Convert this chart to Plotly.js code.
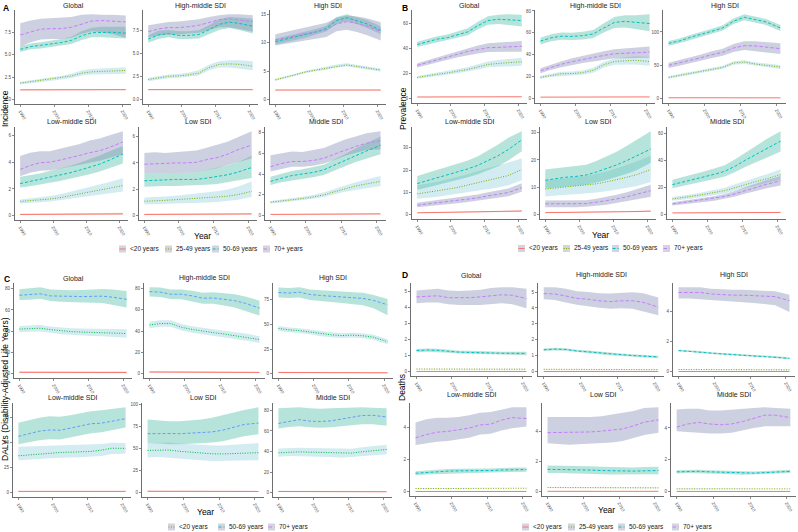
<!DOCTYPE html>
<html>
<head>
<meta charset="utf-8">
<script src="https://cdn.plot.ly/plotly-3.0.1.min.js"></script>
<style>
  html, body { margin: 0; padding: 0; background: #fff; }
  #chart { width: 798px; height: 532px; }
</style>
</head>
<body>
<div id="chart"></div>
<script>
// ---------------------------------------------------------------------------
// Shared categories
// ---------------------------------------------------------------------------
const YEARS = [1990, 1993, 1996, 1999, 2002, 2005, 2008, 2011, 2014, 2017, 2021];
const YEAR_TICKS = [1990, 2000, 2010, 2020];
const REGIONS = ['Global', 'High-middle SDI', 'High SDI', 'Low-middle SDI', 'Low SDI', 'Middle SDI'];
const AGE4 = ['<20 years', '25-49 years', '50-69 years', '70+ years'];
const AGE3 = ['<20 years', '50-69 years', '70+ years'];

// ---------------------------------------------------------------------------
// Incidence (series order: <20, 25-49, 50-69, 70+)
// ---------------------------------------------------------------------------
const incGlobalMean = [
  [1.10,1.10,1.10,1.11,1.11,1.11,1.12,1.12,1.12,1.12,1.12],
  [1.85,2.00,2.15,2.30,2.45,2.65,2.95,3.10,3.15,3.20,3.25],
  [5.60,5.90,6.05,6.20,6.35,6.60,7.10,7.45,7.50,7.50,7.40],
  [7.20,7.50,7.85,7.90,7.90,8.05,8.40,8.75,8.80,8.75,8.65]];
const incGlobalLow = [
  [1.03,1.03,1.04,1.04,1.04,1.05,1.05,1.05,1.05,1.05,1.05],
  [1.70,1.85,2.00,2.12,2.25,2.42,2.68,2.80,2.85,2.88,2.90],
  [5.30,5.60,5.70,5.85,6.00,6.20,6.65,6.95,6.95,6.90,6.80],
  [5.90,6.40,6.70,6.75,6.75,6.90,7.30,7.60,7.50,7.30,6.90]];
const incGlobalHigh = [
  [1.17,1.17,1.17,1.18,1.18,1.18,1.19,1.19,1.19,1.19,1.19],
  [2.00,2.15,2.30,2.48,2.65,2.90,3.25,3.42,3.50,3.55,3.62],
  [5.95,6.25,6.40,6.55,6.75,7.00,7.60,8.00,8.10,8.10,8.10],
  [8.50,8.80,9.00,9.05,9.10,9.20,9.45,9.50,9.45,9.45,9.35]];

const incHighMidMean = [
  [1.10,1.10,1.10,1.11,1.11,1.11,1.11,1.11,1.10,1.10,1.10],
  [2.20,2.40,2.55,2.60,2.70,2.90,3.50,3.85,3.90,3.85,3.65],
  [6.60,7.05,7.20,7.00,7.00,7.10,7.60,8.20,8.45,8.30,8.00],
  [7.40,7.70,7.85,7.85,7.95,8.10,8.40,8.70,8.80,8.70,8.50]];
const incHighMidLow = [
  [1.03,1.03,1.03,1.04,1.04,1.04,1.04,1.04,1.03,1.03,1.03],
  [2.00,2.20,2.35,2.40,2.50,2.65,3.20,3.50,3.50,3.40,3.20],
  [6.20,6.60,6.80,6.60,6.60,6.65,7.10,7.60,7.80,7.60,7.20],
  [6.80,7.00,7.10,7.10,7.20,7.30,7.60,7.90,7.90,7.70,7.40]];
const incHighMidHigh = [
  [1.17,1.17,1.17,1.18,1.18,1.18,1.18,1.18,1.17,1.17,1.17],
  [2.40,2.60,2.75,2.80,2.95,3.20,3.80,4.20,4.30,4.30,4.20],
  [7.00,7.50,7.60,7.45,7.45,7.55,8.10,8.75,9.00,8.95,8.80],
  [8.10,8.30,8.45,8.50,8.60,8.75,9.00,9.20,9.30,9.30,9.20]];

const incHighMean = [
  [1.70,1.70,1.70,1.71,1.71,1.71,1.72,1.72,1.72,1.71,1.70],
  [3.50,3.90,4.40,4.90,5.20,5.50,5.90,6.10,5.85,5.60,5.20],
  [10.2,10.6,11.0,11.4,11.9,12.5,13.9,14.4,13.9,13.3,12.2],
  [10.5,10.9,11.3,11.6,11.9,12.3,13.3,13.7,13.4,12.9,12.0]];
const incHighLow = [
  [1.60,1.60,1.60,1.61,1.61,1.61,1.62,1.62,1.62,1.61,1.60],
  [3.30,3.70,4.20,4.70,5.00,5.25,5.65,5.85,5.60,5.35,4.95],
  [9.7,10.1,10.5,10.9,11.4,12.0,13.3,13.8,13.3,12.6,11.5],
  [9.5,9.8,10.2,10.5,10.7,11.0,12.0,12.3,11.9,11.3,10.4]];
const incHighHigh = [
  [1.80,1.80,1.80,1.81,1.81,1.81,1.82,1.82,1.82,1.81,1.80],
  [3.70,4.10,4.60,5.10,5.45,5.75,6.20,6.40,6.10,5.85,5.50],
  [10.7,11.1,11.5,11.9,12.4,13.0,14.5,15.0,14.5,14.0,12.9],
  [11.5,11.9,12.3,12.6,13.0,13.5,14.4,14.8,14.6,14.3,13.6]];

const incLowMidMean = [
  [0.10,0.10,0.10,0.10,0.11,0.11,0.12,0.12,0.13,0.13,0.14],
  [1.07,1.12,1.17,1.25,1.35,1.50,1.62,1.75,1.90,2.05,2.25],
  [2.40,2.55,2.70,2.85,3.00,3.20,3.40,3.60,3.85,4.15,4.60],
  [3.45,3.75,3.95,4.00,4.15,4.30,4.50,4.70,4.85,5.10,5.50]];
const incLowMidLow = [
  [0.06,0.06,0.06,0.06,0.07,0.07,0.07,0.07,0.08,0.08,0.08],
  [0.92,0.97,1.00,1.07,1.15,1.27,1.36,1.46,1.56,1.66,1.80],
  [2.10,2.20,2.35,2.45,2.60,2.75,2.90,3.10,3.30,3.55,3.90],
  [2.95,3.20,3.35,3.40,3.50,3.60,3.80,3.95,4.10,4.30,4.60]];
const incLowMidHigh = [
  [0.15,0.15,0.15,0.15,0.16,0.16,0.17,0.18,0.19,0.20,0.22],
  [1.22,1.30,1.37,1.47,1.60,1.77,1.95,2.12,2.33,2.52,2.80],
  [2.90,3.00,3.15,3.35,3.50,3.70,3.95,4.20,4.50,4.80,5.20],
  [4.45,4.70,4.80,4.80,5.00,5.15,5.35,5.60,5.75,6.00,6.30]];

const incLowMean = [
  [0.10,0.10,0.10,0.10,0.10,0.11,0.11,0.12,0.12,0.13,0.14],
  [1.10,1.12,1.17,1.22,1.27,1.30,1.35,1.40,1.48,1.60,1.85],
  [2.65,2.70,2.75,2.75,2.75,2.75,2.85,2.95,3.10,3.30,3.65],
  [3.90,3.95,3.95,4.00,4.00,4.05,4.25,4.40,4.65,5.00,5.35]];
const incLowLow = [
  [0.06,0.06,0.06,0.06,0.06,0.07,0.07,0.07,0.07,0.08,0.08],
  [0.85,0.88,0.90,0.93,0.95,0.98,1.00,1.05,1.12,1.22,1.42],
  [2.20,2.25,2.25,2.25,2.25,2.30,2.35,2.40,2.50,2.65,2.85],
  [3.20,3.20,3.20,3.25,3.25,3.30,3.45,3.60,3.80,4.05,4.35]];
const incLowHigh = [
  [0.15,0.15,0.15,0.15,0.15,0.16,0.16,0.17,0.18,0.19,0.21],
  [1.38,1.40,1.45,1.52,1.60,1.65,1.75,1.85,1.98,2.20,2.60],
  [3.20,3.20,3.25,3.25,3.25,3.30,3.45,3.60,3.80,4.05,4.55],
  [4.75,4.80,4.75,4.80,4.85,4.95,5.15,5.35,5.60,5.95,6.40]];

const incMiddleMean = [
  [0.13,0.13,0.14,0.14,0.15,0.15,0.16,0.16,0.17,0.17,0.18],
  [1.30,1.40,1.50,1.65,1.80,2.00,2.30,2.60,2.85,3.05,3.30],
  [3.30,3.60,3.85,4.00,4.15,4.40,4.85,5.35,5.80,6.20,6.75],
  [4.70,5.00,5.20,5.20,5.30,5.50,5.90,6.30,6.65,6.95,7.20]];
const incMiddleLow = [
  [0.09,0.09,0.10,0.10,0.10,0.10,0.11,0.11,0.11,0.11,0.12],
  [1.18,1.27,1.36,1.48,1.62,1.80,2.06,2.30,2.50,2.65,2.85],
  [2.95,3.20,3.40,3.55,3.70,3.90,4.30,4.75,5.15,5.50,5.90],
  [4.25,4.50,4.70,4.70,4.80,5.00,5.35,5.75,6.05,6.30,6.35]];
const incMiddleHigh = [
  [0.18,0.18,0.19,0.19,0.20,0.21,0.22,0.22,0.23,0.24,0.25],
  [1.42,1.53,1.65,1.82,2.00,2.22,2.56,2.92,3.22,3.48,3.80],
  [3.75,4.05,4.30,4.45,4.65,4.90,5.40,5.95,6.45,6.95,7.60],
  [5.80,6.00,6.15,6.10,6.30,6.50,6.90,7.30,7.60,7.90,8.10]];

// ---------------------------------------------------------------------------
// Prevalence (series order: <20, 25-49, 50-69, 70+)
// ---------------------------------------------------------------------------
const prvGlobalMean = [
  [1.40,1.40,1.45,1.45,1.50,1.50,1.55,1.55,1.60,1.60,1.60],
  [16.9,18.3,19.5,20.5,21.8,23.3,25.2,27.2,28.0,28.6,29.3],
  [43.0,45.2,47.3,48.5,51.0,53.0,58.0,62.0,63.0,62.8,62.0],
  [26.5,28.8,31.0,33.3,35.5,37.5,39.0,40.5,40.7,41.0,41.6]];
const prvGlobalLow = [
  [1.20,1.20,1.25,1.25,1.30,1.30,1.35,1.35,1.40,1.40,1.40],
  [15.8,17.1,18.2,19.1,20.3,21.6,23.2,24.9,25.5,25.8,26.2],
  [41.0,43.1,45.0,46.2,48.5,50.3,55.0,58.7,59.3,58.5,57.2],
  [24.8,27.0,29.0,31.0,33.0,34.7,35.8,37.0,37.0,37.0,37.3]];
const prvGlobalHigh = [
  [1.60,1.60,1.65,1.65,1.70,1.70,1.75,1.75,1.80,1.80,1.80],
  [18.0,19.5,20.8,21.9,23.4,25.0,27.3,29.6,30.7,31.5,32.6],
  [45.2,47.4,49.6,50.9,53.6,55.9,61.0,65.3,66.6,67.0,66.6],
  [28.2,30.6,33.0,35.6,38.0,40.3,42.3,44.0,44.5,45.0,45.8]];

const prvHighMidMean = [
  [1.50,1.50,1.55,1.55,1.60,1.60,1.65,1.65,1.70,1.70,1.70],
  [19.5,21.5,22.8,23.0,23.8,26.0,31.0,34.0,34.6,35.0,34.0],
  [52.5,55.5,57.0,56.8,57.5,59.0,64.5,69.5,70.5,69.5,68.5],
  [25.5,28.8,31.5,33.8,35.8,37.5,39.5,41.0,41.5,41.5,42.5]];
const prvHighMidLow = [
  [1.30,1.30,1.35,1.35,1.40,1.40,1.45,1.45,1.50,1.50,1.50],
  [18.0,19.9,21.1,21.2,21.8,23.8,28.5,31.0,31.2,31.2,30.0],
  [49.5,52.3,53.7,53.5,54.0,55.3,60.3,64.5,65.0,63.5,61.5],
  [23.3,26.4,28.8,30.8,32.5,34.0,35.7,36.8,37.0,36.8,37.3]];
const prvHighMidHigh = [
  [1.70,1.70,1.75,1.75,1.80,1.80,1.85,1.85,1.90,1.90,1.90],
  [21.0,23.1,24.5,24.8,25.8,28.2,33.5,37.0,38.0,38.8,38.0],
  [55.5,58.7,60.3,60.1,61.0,62.7,68.7,74.5,76.0,76.0,77.0],
  [27.7,31.2,34.2,36.8,39.1,41.0,43.3,45.2,46.0,46.5,47.5]];

const prvHighMean = [
  [1.50,1.50,1.50,1.50,1.50,1.50,1.50,1.50,1.50,1.45,1.40],
  [32.0,35.0,38.0,41.0,44.0,47.0,53.5,55.0,52.0,50.5,47.5],
  [83.0,86.5,92.0,96.0,101.0,106.0,116.0,122.0,119.0,115.0,106.0],
  [50.0,53.5,57.0,61.5,66.0,69.5,76.0,79.5,79.0,77.0,75.0]];
const prvHighLow = [
  [1.20,1.20,1.20,1.20,1.20,1.20,1.20,1.20,1.20,1.15,1.10],
  [30.0,33.0,36.0,38.8,41.6,44.5,50.8,52.2,49.2,47.6,44.5],
  [79.5,83.0,88.5,92.3,97.2,102.0,112.0,117.5,114.5,110.5,101.5],
  [46.0,49.3,52.6,56.8,61.0,64.2,70.0,72.8,71.8,69.5,67.0]];
const prvHighHigh = [
  [1.80,1.80,1.80,1.80,1.80,1.80,1.80,1.80,1.80,1.75,1.70],
  [34.0,37.0,40.0,43.2,46.4,49.5,56.2,57.8,54.8,53.4,50.5],
  [86.5,90.0,95.5,99.7,104.8,110.0,120.0,126.5,123.5,119.5,110.5],
  [54.0,57.7,61.4,66.2,71.0,74.8,82.0,86.2,86.2,84.5,83.0]];

const prvLowMidMean = [
  [0.90,0.95,1.00,1.05,1.10,1.15,1.25,1.35,1.45,1.55,1.70],
  [9.4,10.0,10.6,11.5,12.3,13.3,14.3,15.3,16.3,17.6,20.3],
  [14.0,15.3,16.6,17.9,19.2,20.6,22.2,24.2,26.5,29.3,33.6],
  [4.35,4.90,5.50,6.00,6.40,7.00,7.60,8.50,9.20,10.00,12.20]];
const prvLowMidLow = [
  [0.75,0.80,0.85,0.88,0.92,0.96,1.05,1.13,1.21,1.29,1.42],
  [7.2,7.7,8.1,8.7,9.3,10.0,10.8,11.6,12.3,13.3,15.5],
  [11.2,12.3,13.4,14.5,15.6,16.8,18.2,19.9,21.8,24.3,28.5],
  [3.40,3.90,4.40,4.80,5.20,5.70,6.20,7.00,7.60,8.30,10.30]];
const prvLowMidHigh = [
  [1.08,1.14,1.20,1.26,1.32,1.38,1.50,1.62,1.74,1.86,2.04],
  [13.3,14.0,14.8,16.0,17.0,18.2,19.6,20.9,22.2,23.8,25.2],
  [17.4,18.9,20.2,21.5,22.8,24.3,26.3,28.8,31.5,34.5,37.5],
  [5.40,6.00,6.70,7.30,7.80,8.40,9.10,10.10,10.90,11.80,14.20]];

const prvLowMean = [
  [0.80,0.82,0.85,0.88,0.90,0.95,1.00,1.05,1.10,1.20,1.35],
  [9.4,9.8,10.2,10.5,10.8,11.3,12.0,12.8,13.7,14.7,16.5],
  [12.6,13.2,13.7,14.0,14.5,15.6,16.8,18.2,19.8,21.5,24.0],
  [4.0,4.0,4.0,4.0,4.1,4.6,5.1,5.8,6.6,7.5,8.8]];
const prvLowLow = [
  [0.66,0.68,0.70,0.73,0.75,0.79,0.83,0.87,0.91,1.00,1.12],
  [6.7,7.0,7.3,7.5,7.7,8.1,8.6,9.2,9.8,10.5,12.0],
  [9.6,10.0,10.4,10.6,11.0,11.8,12.7,13.8,15.0,16.3,19.0],
  [2.8,2.8,2.8,2.8,2.9,3.3,3.7,4.3,5.0,5.7,6.6]];
const prvLowHigh = [
  [0.96,0.98,1.02,1.06,1.08,1.14,1.20,1.26,1.32,1.44,1.62],
  [12.5,13.0,13.5,13.8,14.2,14.9,15.8,17.0,18.2,19.5,21.5],
  [16.5,17.0,17.5,17.8,18.3,19.6,21.2,23.0,25.2,27.5,30.5],
  [5.2,5.2,5.2,5.2,5.3,5.9,6.5,7.3,8.2,9.3,11.0]];

const prvMiddleMean = [
  [1.40,1.40,1.45,1.45,1.50,1.50,1.55,1.60,1.65,1.70,1.75],
  [11.7,12.6,13.8,15.0,16.3,17.8,20.0,22.5,24.5,26.5,29.5],
  [22.2,24.0,26.0,27.8,29.8,32.0,35.8,40.3,44.5,48.5,54.2],
  [8.0,9.0,10.0,11.0,12.0,13.5,15.5,18.0,20.5,22.5,25.0]];
const prvMiddleLow = [
  [1.20,1.20,1.25,1.25,1.30,1.30,1.34,1.38,1.42,1.46,1.50],
  [10.3,11.1,12.2,13.2,14.4,15.7,17.6,19.8,21.5,23.2,26.0],
  [19.6,21.2,23.0,24.6,26.3,28.2,31.4,35.3,38.8,42.0,46.5],
  [6.8,7.7,8.6,9.5,10.4,11.7,13.5,15.7,17.8,19.5,21.5]];
const prvMiddleHigh = [
  [1.60,1.60,1.65,1.65,1.70,1.70,1.76,1.82,1.88,1.94,2.00],
  [13.1,14.1,15.4,16.8,18.2,19.9,22.4,25.2,27.5,29.8,33.5],
  [25.7,27.6,29.8,31.8,34.0,36.5,40.8,46.0,51.0,55.8,61.5],
  [9.3,10.4,11.5,12.6,13.7,15.4,17.6,20.4,23.2,25.6,28.5]];

// ---------------------------------------------------------------------------
// DALYs (series order: <20, 50-69, 70+)
// ---------------------------------------------------------------------------
const dalyGlobalMean = [
  [1.30,1.30,1.30,1.30,1.25,1.25,1.20,1.20,1.20,1.15,1.15],
  [42.0,42.5,42.8,41.5,40.3,39.6,39.2,38.9,38.9,38.7,37.8],
  [73.8,74.2,75.2,73.2,72.8,72.5,72.6,72.8,73.0,72.0,70.0]];
const dalyGlobalLow = [
  [0.60,0.60,0.60,0.60,0.58,0.58,0.55,0.55,0.55,0.52,0.52],
  [39.0,39.5,39.8,38.5,37.2,36.4,35.8,35.4,35.2,34.9,33.8],
  [69.3,69.6,70.5,68.5,67.8,67.2,67.0,66.8,66.6,65.0,62.3]];
const dalyGlobalHigh = [
  [2.20,2.20,2.20,2.20,2.12,2.12,2.05,2.05,2.05,1.98,1.98],
  [45.0,45.5,45.8,44.5,43.4,42.8,42.6,42.4,42.6,42.5,41.8],
  [79.5,80.3,81.3,79.2,78.7,78.5,78.8,79.2,79.8,79.2,77.8]];

const dalyHighMidMean = [
  [1.60,1.60,1.55,1.50,1.45,1.40,1.35,1.30,1.25,1.20,1.15],
  [45.7,47.0,47.0,43.5,41.5,39.8,38.5,37.2,35.8,34.4,32.0],
  [77.0,76.5,74.5,74.5,73.0,70.8,71.0,70.0,68.5,66.0,61.5]];
const dalyHighMidLow = [
  [0.80,0.80,0.78,0.75,0.72,0.70,0.68,0.65,0.62,0.60,0.58],
  [42.7,44.0,44.0,40.5,38.5,36.8,35.5,34.1,32.6,31.2,28.8],
  [72.5,72.0,70.0,69.8,68.0,65.5,65.5,64.0,62.0,59.0,54.5]];
const dalyHighMidHigh = [
  [2.60,2.60,2.52,2.45,2.38,2.30,2.22,2.15,2.05,1.98,1.90],
  [48.7,50.0,50.0,46.5,44.5,42.8,41.6,40.3,39.0,37.6,35.2],
  [81.0,80.8,79.0,79.0,77.8,75.8,76.3,75.6,74.5,72.5,68.5]];

const dalyHighMean = [
  [1.20,1.20,1.15,1.10,1.10,1.05,1.00,1.00,0.95,0.95,0.90],
  [46.0,44.5,43.8,42.5,40.5,39.5,38.8,39.2,38.5,37.0,32.5],
  [82.5,82.0,82.8,80.5,79.5,78.8,78.0,77.5,76.5,74.5,70.0]];
const dalyHighLow = [
  [0.60,0.60,0.58,0.55,0.55,0.52,0.50,0.50,0.48,0.48,0.45],
  [43.5,42.0,41.3,40.0,38.0,37.0,36.3,36.7,36.0,34.5,30.0],
  [77.5,77.0,77.5,75.0,73.8,72.8,71.8,71.0,69.5,66.5,59.5]];
const dalyHighHigh = [
  [2.00,2.00,1.92,1.85,1.85,1.78,1.70,1.70,1.62,1.62,1.55],
  [48.5,47.0,46.3,45.0,43.0,42.0,41.3,41.7,41.0,39.5,35.0],
  [87.5,87.0,87.8,85.5,84.8,84.2,83.5,83.0,82.2,80.0,76.0]];

const dalyLowMidMean = [
  [1.30,1.30,1.30,1.30,1.30,1.30,1.30,1.30,1.30,1.30,1.30],
  [36.9,37.8,38.7,39.6,40.2,40.5,40.8,41.3,42.5,44.5,44.3],
  [56.3,59.0,61.5,62.7,62.5,64.5,66.8,69.0,69.5,71.5,74.0]];
const dalyLowMidLow = [
  [0.65,0.65,0.65,0.65,0.65,0.65,0.65,0.65,0.65,0.65,0.65],
  [32.4,33.1,33.8,34.5,35.0,35.2,35.4,35.8,36.8,38.8,38.9],
  [48.5,50.5,52.5,53.5,53.3,55.0,57.5,59.5,60.5,62.5,65.3]];
const dalyLowMidHigh = [
  [2.10,2.10,2.10,2.10,2.10,2.10,2.10,2.10,2.10,2.10,2.10],
  [45.9,46.3,46.6,47.0,47.3,47.5,47.8,48.2,48.8,50.0,49.7],
  [70.0,72.5,75.0,76.5,76.0,77.5,79.5,81.5,82.5,84.0,85.4]];

const dalyLowMean = [
  [1.60,1.60,1.60,1.55,1.55,1.50,1.50,1.45,1.45,1.40,1.40],
  [48.0,48.5,48.5,47.0,46.0,45.0,44.2,44.0,44.5,45.2,45.5],
  [67.0,67.5,67.2,67.0,67.5,68.0,69.0,71.0,74.0,77.5,79.0]];
const dalyLowLow = [
  [0.80,0.80,0.80,0.78,0.78,0.75,0.75,0.72,0.72,0.70,0.70],
  [40.0,40.5,40.3,38.8,37.8,36.8,36.0,35.7,35.9,36.5,36.8],
  [56.5,56.0,55.0,55.0,55.5,56.0,57.0,58.5,61.0,64.0,66.5]];
const dalyLowHigh = [
  [2.60,2.60,2.60,2.50,2.50,2.45,2.45,2.40,2.40,2.30,2.30],
  [56.5,57.0,57.0,55.8,55.0,54.2,53.6,53.5,54.2,55.5,56.5],
  [83.0,82.0,81.0,81.0,82.0,83.0,85.0,88.0,91.0,94.0,97.0]];

const dalyMiddleMean = [
  [1.20,1.20,1.20,1.15,1.15,1.10,1.10,1.10,1.05,1.05,1.00],
  [38.8,39.5,39.7,39.4,39.0,38.8,38.2,38.5,39.8,40.8,42.0],
  [67.3,69.5,71.0,69.5,69.2,69.8,71.5,73.6,75.0,75.2,73.6]];
const dalyMiddleLow = [
  [0.60,0.60,0.60,0.58,0.58,0.55,0.55,0.55,0.52,0.52,0.50],
  [35.0,35.7,35.9,35.5,35.0,34.7,34.0,34.2,35.3,36.2,37.3],
  [62.5,63.8,64.5,63.5,63.0,63.5,64.5,65.8,66.5,66.5,65.0]];
const dalyMiddleHigh = [
  [2.00,2.00,2.00,1.90,1.90,1.85,1.85,1.85,1.75,1.75,1.70],
  [43.0,43.6,43.8,43.5,43.2,43.0,42.5,42.8,44.2,45.3,46.5],
  [82.0,82.5,83.0,82.0,81.5,82.0,82.5,83.0,83.0,82.5,82.0]];

// ---------------------------------------------------------------------------
// Deaths (series order: <20, 25-49, 50-69, 70+)
// ---------------------------------------------------------------------------
const dthGlobalMean = [
  [0.02,0.02,0.02,0.02,0.02,0.02,0.02,0.02,0.02,0.02,0.02],
  [0.17,0.17,0.17,0.17,0.17,0.17,0.17,0.17,0.17,0.17,0.16],
  [1.32,1.35,1.33,1.27,1.22,1.20,1.17,1.15,1.15,1.15,1.14],
  [4.65,4.70,4.72,4.60,4.58,4.60,4.65,4.72,4.78,4.75,4.55]];
const dthGlobalLow = [
  [0.01,0.01,0.01,0.01,0.01,0.01,0.01,0.01,0.01,0.01,0.01],
  [0.15,0.15,0.15,0.15,0.15,0.15,0.15,0.15,0.15,0.15,0.14],
  [1.22,1.25,1.23,1.18,1.13,1.10,1.07,1.05,1.05,1.05,1.03],
  [4.25,4.30,4.30,4.20,4.15,4.15,4.15,4.20,4.25,4.20,3.95]];
const dthGlobalHigh = [
  [0.03,0.03,0.03,0.03,0.03,0.03,0.03,0.03,0.03,0.03,0.03],
  [0.19,0.19,0.19,0.19,0.19,0.19,0.19,0.19,0.19,0.19,0.18],
  [1.42,1.45,1.43,1.37,1.31,1.30,1.27,1.25,1.25,1.25,1.25],
  [5.05,5.10,5.15,5.05,5.02,5.05,5.10,5.20,5.25,5.25,5.15]];

const dthHighMidMean = [
  [0.02,0.02,0.02,0.02,0.02,0.02,0.02,0.02,0.02,0.02,0.02],
  [0.16,0.16,0.16,0.16,0.15,0.15,0.15,0.14,0.14,0.14,0.13],
  [1.38,1.42,1.40,1.30,1.25,1.18,1.12,1.07,1.02,0.98,0.93],
  [4.90,4.88,4.75,4.60,4.55,4.45,4.40,4.45,4.45,4.35,4.05]];
const dthHighMidLow = [
  [0.01,0.01,0.01,0.01,0.01,0.01,0.01,0.01,0.01,0.01,0.01],
  [0.14,0.14,0.14,0.14,0.13,0.13,0.13,0.12,0.12,0.12,0.11],
  [1.30,1.34,1.32,1.22,1.17,1.10,1.04,0.99,0.94,0.90,0.85],
  [4.55,4.50,4.35,4.20,4.12,4.02,3.95,3.98,3.95,3.80,3.55]];
const dthHighMidHigh = [
  [0.03,0.03,0.03,0.03,0.03,0.03,0.03,0.03,0.03,0.03,0.03],
  [0.18,0.18,0.18,0.18,0.17,0.17,0.17,0.16,0.16,0.16,0.15],
  [1.46,1.50,1.48,1.38,1.33,1.26,1.20,1.15,1.10,1.06,1.01],
  [5.30,5.30,5.20,5.05,5.00,4.92,4.90,4.95,4.98,4.92,4.65]];

const dthHighMean = [
  [0.02,0.02,0.02,0.02,0.02,0.02,0.02,0.02,0.02,0.02,0.02],
  [0.15,0.15,0.15,0.15,0.15,0.14,0.14,0.14,0.14,0.14,0.13],
  [1.42,1.38,1.33,1.25,1.20,1.15,1.10,1.07,1.03,1.00,0.90],
  [5.30,5.30,5.30,5.20,5.15,5.12,5.12,5.10,5.08,5.02,4.75]];
const dthHighLow = [
  [0.01,0.01,0.01,0.01,0.01,0.01,0.01,0.01,0.01,0.01,0.01],
  [0.13,0.13,0.13,0.13,0.13,0.12,0.12,0.12,0.12,0.12,0.11],
  [1.36,1.32,1.27,1.19,1.14,1.09,1.04,1.01,0.97,0.94,0.84],
  [4.90,4.90,4.90,4.80,4.75,4.70,4.65,4.60,4.55,4.45,4.00]];
const dthHighHigh = [
  [0.03,0.03,0.03,0.03,0.03,0.03,0.03,0.03,0.03,0.03,0.03],
  [0.17,0.17,0.17,0.17,0.17,0.16,0.16,0.16,0.16,0.16,0.15],
  [1.48,1.44,1.39,1.31,1.26,1.21,1.16,1.13,1.09,1.06,0.96],
  [5.65,5.65,5.65,5.55,5.50,5.48,5.48,5.45,5.42,5.38,5.15]];

const dthLowMidMean = [
  [0.02,0.02,0.02,0.02,0.02,0.02,0.02,0.02,0.02,0.02,0.02],
  [0.20,0.20,0.21,0.21,0.21,0.22,0.22,0.22,0.22,0.22,0.22],
  [1.15,1.20,1.25,1.28,1.30,1.30,1.30,1.32,1.35,1.38,1.38],
  [3.35,3.55,3.70,3.75,3.85,3.95,4.15,4.20,4.45,4.60,4.55]];
const dthLowMidLow = [
  [0.01,0.01,0.01,0.01,0.01,0.01,0.01,0.01,0.01,0.01,0.01],
  [0.18,0.18,0.19,0.19,0.19,0.20,0.20,0.20,0.20,0.20,0.20],
  [1.02,1.07,1.12,1.15,1.17,1.17,1.17,1.19,1.22,1.25,1.25],
  [2.90,3.00,3.10,3.15,3.25,3.35,3.55,3.60,3.80,3.95,4.05]];
const dthLowMidHigh = [
  [0.03,0.03,0.03,0.03,0.03,0.03,0.03,0.03,0.03,0.03,0.03],
  [0.22,0.22,0.23,0.23,0.23,0.24,0.24,0.24,0.24,0.24,0.24],
  [1.28,1.33,1.38,1.41,1.43,1.43,1.43,1.45,1.48,1.51,1.51],
  [4.30,4.50,4.60,4.60,4.65,4.75,4.90,4.95,5.10,5.25,5.25]];

const dthLowMean = [
  [0.03,0.03,0.03,0.03,0.03,0.03,0.03,0.03,0.03,0.03,0.03],
  [0.28,0.28,0.27,0.27,0.27,0.27,0.27,0.26,0.26,0.26,0.26],
  [1.50,1.50,1.50,1.48,1.45,1.42,1.40,1.38,1.38,1.40,1.42],
  [3.95,3.95,3.95,3.95,4.00,4.05,4.10,4.20,4.40,4.65,4.80]];
const dthLowLow = [
  [0.02,0.02,0.02,0.02,0.02,0.02,0.02,0.02,0.02,0.02,0.02],
  [0.25,0.25,0.24,0.24,0.24,0.24,0.24,0.23,0.23,0.23,0.23],
  [1.25,1.25,1.25,1.23,1.20,1.17,1.15,1.13,1.13,1.15,1.17],
  [3.25,3.20,3.15,3.15,3.20,3.25,3.30,3.40,3.60,3.80,3.95]];
const dthLowHigh = [
  [0.04,0.04,0.04,0.04,0.04,0.04,0.04,0.04,0.04,0.04,0.04],
  [0.31,0.31,0.30,0.30,0.30,0.30,0.30,0.29,0.29,0.29,0.29],
  [1.75,1.75,1.75,1.73,1.70,1.67,1.65,1.63,1.63,1.65,1.67],
  [5.00,5.00,4.95,4.95,5.00,5.05,5.15,5.25,5.40,5.60,5.65]];

const dthMiddleMean = [
  [0.02,0.02,0.02,0.02,0.02,0.02,0.02,0.02,0.02,0.02,0.02],
  [0.18,0.18,0.18,0.18,0.18,0.18,0.18,0.18,0.18,0.18,0.18],
  [1.25,1.27,1.28,1.25,1.22,1.20,1.17,1.17,1.20,1.25,1.28],
  [4.05,4.25,4.35,4.25,4.20,4.25,4.40,4.60,4.80,4.80,4.65]];
const dthMiddleLow = [
  [0.01,0.01,0.01,0.01,0.01,0.01,0.01,0.01,0.01,0.01,0.01],
  [0.16,0.16,0.16,0.16,0.16,0.16,0.16,0.16,0.16,0.16,0.16],
  [1.15,1.17,1.18,1.15,1.12,1.10,1.07,1.07,1.10,1.15,1.18],
  [3.80,3.75,3.70,3.65,3.65,3.70,3.85,4.00,4.10,4.10,4.10]];
const dthMiddleHigh = [
  [0.03,0.03,0.03,0.03,0.03,0.03,0.03,0.03,0.03,0.03,0.03],
  [0.20,0.20,0.20,0.20,0.20,0.20,0.20,0.20,0.20,0.20,0.20],
  [1.35,1.37,1.38,1.35,1.32,1.30,1.27,1.27,1.30,1.35,1.38],
  [5.15,5.20,5.20,5.10,5.10,5.15,5.20,5.25,5.30,5.25,5.20]];

// ---------------------------------------------------------------------------
// Styling
// ---------------------------------------------------------------------------
const FIG_W = 798, FIG_H = 532;
const FONT = 'Liberation Sans, Arial, Helvetica, sans-serif';

const STYLE4 = [
  { color: '#F8766D', dash: 'solid',     band: 'rgba(242,155,147,0.35)' },
  { color: '#7CAE00', dash: '1px,1.5px', band: 'rgba(142,207,222,0.40)' },
  { color: '#00BFC4', dash: '3px,2px',   band: 'rgba(75,188,163,0.40)' },
  { color: '#C77CFF', dash: '3.5px,2px', band: 'rgba(130,137,178,0.40)' }
];
const STYLE3 = [
  { color: '#F8766D', dash: 'solid',     band: 'rgba(242,155,147,0.35)' },
  { color: '#00BA38', dash: '1px,1.5px', band: 'rgba(142,207,222,0.40)' },
  { color: '#619CFF', dash: '3px,2px',   band: 'rgba(75,188,163,0.40)' }
];

// pixel boxes: [left, right, top, bottom]
const panels = [
  {
    letter: 'A', letterAt: [6, 8], measure: 'Incidence', measureAt: [5, 109], yearAt: [202, 236],
    styles: STYLE4, titleY: [6, 121],
    legendY: 249, legendKeys: [119, 165, 212, 263], legendLabels: AGE4, legendStyles: [STYLE4[0], STYLE4[1], STYLE4[2], STYLE4[3]],
    subplots: [
      { box: [15, 131, 10, 104],  mean: incGlobalMean,  low: incGlobalLow,  high: incGlobalHigh,  dtick: 2.5, fmt: '.1f' },
      { box: [143, 258, 10, 104], mean: incHighMidMean, low: incHighMidLow, high: incHighMidHigh, dtick: 2.5, fmt: '.1f' },
      { box: [270, 386, 10, 104], mean: incHighMean,    low: incHighLow,    high: incHighHigh,    dtick: 5 },
      { box: [15, 128, 127, 220], mean: incLowMidMean,  low: incLowMidLow,  high: incLowMidHigh,  dtick: 2 },
      { box: [139, 257, 127, 220], mean: incLowMean,    low: incLowLow,     high: incLowHigh,     dtick: 2 },
      { box: [265, 386, 127, 220], mean: incMiddleMean, low: incMiddleLow,  high: incMiddleHigh,  dtick: 2 }
    ]
  },
  {
    letter: 'B', letterAt: [405, 8], measure: 'Prevalence', measureAt: [403, 109], yearAt: [600, 235],
    styles: STYLE4, titleY: [6, 121],
    legendY: 248.5, legendKeys: [518, 563, 612, 663], legendLabels: AGE4, legendStyles: [STYLE4[0], STYLE4[1], STYLE4[2], STYLE4[3]],
    subplots: [
      { box: [412, 527, 10, 103], mean: prvGlobalMean,  low: prvGlobalLow,  high: prvGlobalHigh,  dtick: 20 },
      { box: [535, 655, 10, 103], mean: prvHighMidMean, low: prvHighMidLow, high: prvHighMidHigh, dtick: 20 },
      { box: [663, 786, 10, 103], mean: prvHighMean,    low: prvHighLow,    high: prvHighHigh,    dtick: 50 },
      { box: [412, 527, 127, 219], mean: prvLowMidMean, low: prvLowMidLow,  high: prvLowMidHigh,  dtick: 10 },
      { box: [540, 656, 127, 219], mean: prvLowMean,    low: prvLowLow,     high: prvLowHigh,     dtick: 10 },
      { box: [667, 786, 127, 219], mean: prvMiddleMean, low: prvMiddleLow,  high: prvMiddleHigh,  dtick: 20 }
    ]
  },
  {
    letter: 'C', letterAt: [7, 279], measure: 'DALYs (Disability-Adjusted Life Years)', measureAt: [5, 389], yearAt: [205, 512],
    styles: STYLE3, titleY: [278, 397],
    legendY: 527, legendKeys: [168, 218, 268], legendLabels: AGE3, legendStyles: [STYLE4[1], STYLE4[2], STYLE4[3]],
    subplots: [
      { box: [14, 132, 283, 378],  mean: dalyGlobalMean,  low: dalyGlobalLow,  high: dalyGlobalHigh,  dtick: 20 },
      { box: [144, 265, 283, 378], mean: dalyHighMidMean, low: dalyHighMidLow, high: dalyHighMidHigh, dtick: 20 },
      { box: [273, 393, 283, 378], mean: dalyHighMean,    low: dalyHighLow,    high: dalyHighHigh,    dtick: 25 },
      { box: [13, 131, 403, 497],  mean: dalyLowMidMean,  low: dalyLowMidLow,  high: dalyLowMidHigh,  dtick: 25 },
      { box: [142, 264, 403, 497], mean: dalyLowMean,     low: dalyLowLow,     high: dalyLowHigh,     dtick: 25 },
      { box: [273, 392, 403, 497], mean: dalyMiddleMean,  low: dalyMiddleLow,  high: dalyMiddleHigh,  dtick: 20 }
    ]
  },
  {
    letter: 'D', letterAt: [405, 275], measure: 'Deaths', measureAt: [402, 388], yearAt: [606, 510],
    styles: STYLE4, titleY: [275, 395],
    legendY: 527, legendKeys: [522, 568, 618, 672], legendLabels: AGE4, legendStyles: [STYLE4[0], STYLE4[1], STYLE4[2], STYLE4[3]],
    subplots: [
      { box: [411, 532, 283, 376], mean: dthGlobalMean,  low: dthGlobalLow,  high: dthGlobalHigh,  dtick: 1 },
      { box: [538, 664, 283, 376], mean: dthHighMidMean, low: dthHighMidLow, high: dthHighMidHigh, dtick: 1 },
      { box: [673, 795, 283, 376], mean: dthHighMean,    low: dthHighLow,    high: dthHighHigh,    dtick: 2 },
      { box: [410, 532, 403, 496], mean: dthLowMidMean,  low: dthLowMidLow,  high: dthLowMidHigh,  dtick: 2 },
      { box: [542, 664, 403, 496], mean: dthLowMean,     low: dthLowLow,     high: dthLowHigh,     dtick: 2 },
      { box: [671, 796, 403, 496], mean: dthMiddleMean,  low: dthMiddleLow,  high: dthMiddleHigh,  dtick: 2 }
    ]
  }
];

const px = x => x / FIG_W;
const py = y => 1 - y / FIG_H;

// ---------------------------------------------------------------------------
// Build traces, axes and labels
// ---------------------------------------------------------------------------
const traces = [];
const annotations = [];
const shapes = [];
const layout = {
  width: FIG_W, height: FIG_H,
  margin: { l: 0, r: 0, t: 0, b: 0 },
  paper_bgcolor: '#ffffff', plot_bgcolor: '#ffffff',
  showlegend: false,
  font: { family: FONT, color: '#000' }
};

const xRange = [1990 - 0.05 * 31, 2021 + 0.05 * 31];
let k = 0;

panels.forEach(panel => {
  panel.subplots.forEach((sp, i) => {
    k += 1;
    const sfx = k === 1 ? '' : String(k);
    const xa = 'x' + sfx, ya = 'y' + sfx;
    const [x0, x1, yt, yb] = sp.box;

    let lo = 0, hi = -Infinity;
    sp.low.forEach(arr => arr.forEach(v => { lo = Math.min(lo, v); }));
    sp.high.forEach(arr => arr.forEach(v => { hi = Math.max(hi, v); }));
    const pad = 0.05 * (hi - lo);

    const axisCommon = {
      showgrid: false, zeroline: false, showline: true,
      linecolor: '#6e6e6e', linewidth: 1,
      ticks: 'outside', ticklen: 2, tickwidth: 0.8, tickcolor: '#6e6e6e',
      tickfont: { family: FONT, size: 4.5, color: '#4d4d4d' },
      fixedrange: true
    };
    layout['xaxis' + sfx] = Object.assign({}, axisCommon, {
      domain: [px(x0), px(x1)], anchor: ya, range: xRange,
      tickmode: 'array', tickvals: YEAR_TICKS, ticktext: YEAR_TICKS.map(String),
      tickangle: 60
    });
    layout['yaxis' + sfx] = Object.assign({}, axisCommon, {
      domain: [py(yb), py(yt)], anchor: xa, range: [lo - pad, hi + pad],
      tick0: 0, dtick: sp.dtick, tickformat: sp.fmt || ''
    });

    // uncertainty ribbons
    sp.mean.forEach((m, s) => {
      traces.push({
        type: 'scatter', mode: 'lines', xaxis: xa, yaxis: ya,
        x: YEARS.concat(YEARS.slice().reverse()),
        y: sp.high[s].concat(sp.low[s].slice().reverse()),
        fill: 'toself', fillcolor: panel.styles[s].band,
        line: { width: 0 }, hoverinfo: 'skip'
      });
    });
    // central estimates
    sp.mean.forEach((m, s) => {
      traces.push({
        type: 'scatter', mode: 'lines', xaxis: xa, yaxis: ya,
        x: YEARS, y: m,
        line: { color: panel.styles[s].color, width: 1, dash: panel.styles[s].dash }
      });
    });

    annotations.push({
      xref: 'paper', yref: 'paper', x: px((x0 + x1) / 2), y: py(panel.titleY[i < 3 ? 0 : 1]),
      text: REGIONS[i], showarrow: false, xanchor: 'center', yanchor: 'middle',
      font: { family: FONT, size: 7, color: '#1a1a1a' }
    });
  });

  // panel letter
  annotations.push({
    xref: 'paper', yref: 'paper', x: px(panel.letterAt[0]), y: py(panel.letterAt[1]),
    text: '<b>' + panel.letter + '</b>', showarrow: false, xanchor: 'center', yanchor: 'middle',
    font: { family: FONT, size: 8.5, color: '#000' }
  });
  // y title
  annotations.push({
    xref: 'paper', yref: 'paper', x: px(panel.measureAt[0]), y: py(panel.measureAt[1]),
    text: panel.measure, showarrow: false, textangle: -90, xanchor: 'center', yanchor: 'middle',
    font: { family: FONT, size: 8.5, color: '#000' }
  });
  // x title
  annotations.push({
    xref: 'paper', yref: 'paper', x: px(panel.yearAt[0]), y: py(panel.yearAt[1]),
    text: 'Year', showarrow: false, xanchor: 'center', yanchor: 'middle',
    font: { family: FONT, size: 8.5, color: '#000' }
  });
  // legend
  panel.legendKeys.forEach((kx, j) => {
    const st = panel.legendStyles[j];
    const ly = panel.legendY;
    shapes.push({
      type: 'rect', xref: 'paper', yref: 'paper',
      x0: px(kx), x1: px(kx + 7), y0: py(ly + 3.5), y1: py(ly - 3.5),
      fillcolor: '#d3d4de', line: { width: 0 }
    });
    shapes.push({
      type: 'line', xref: 'paper', yref: 'paper',
      x0: px(kx + 0.5), x1: px(kx + 6.5), y0: py(ly), y1: py(ly),
      line: { color: st.color, width: 1, dash: st.dash }
    });
    annotations.push({
      xref: 'paper', yref: 'paper', x: px(kx + 9), y: py(ly),
      text: panel.legendLabels[j], showarrow: false, xanchor: 'left', yanchor: 'middle',
      font: { family: FONT, size: 6.5, color: '#1a1a1a' }
    });
  });
});

layout.annotations = annotations;
layout.shapes = shapes;

Plotly.newPlot('chart', traces, layout, { staticPlot: true, displayModeBar: false });
</script>
</body>
</html>
